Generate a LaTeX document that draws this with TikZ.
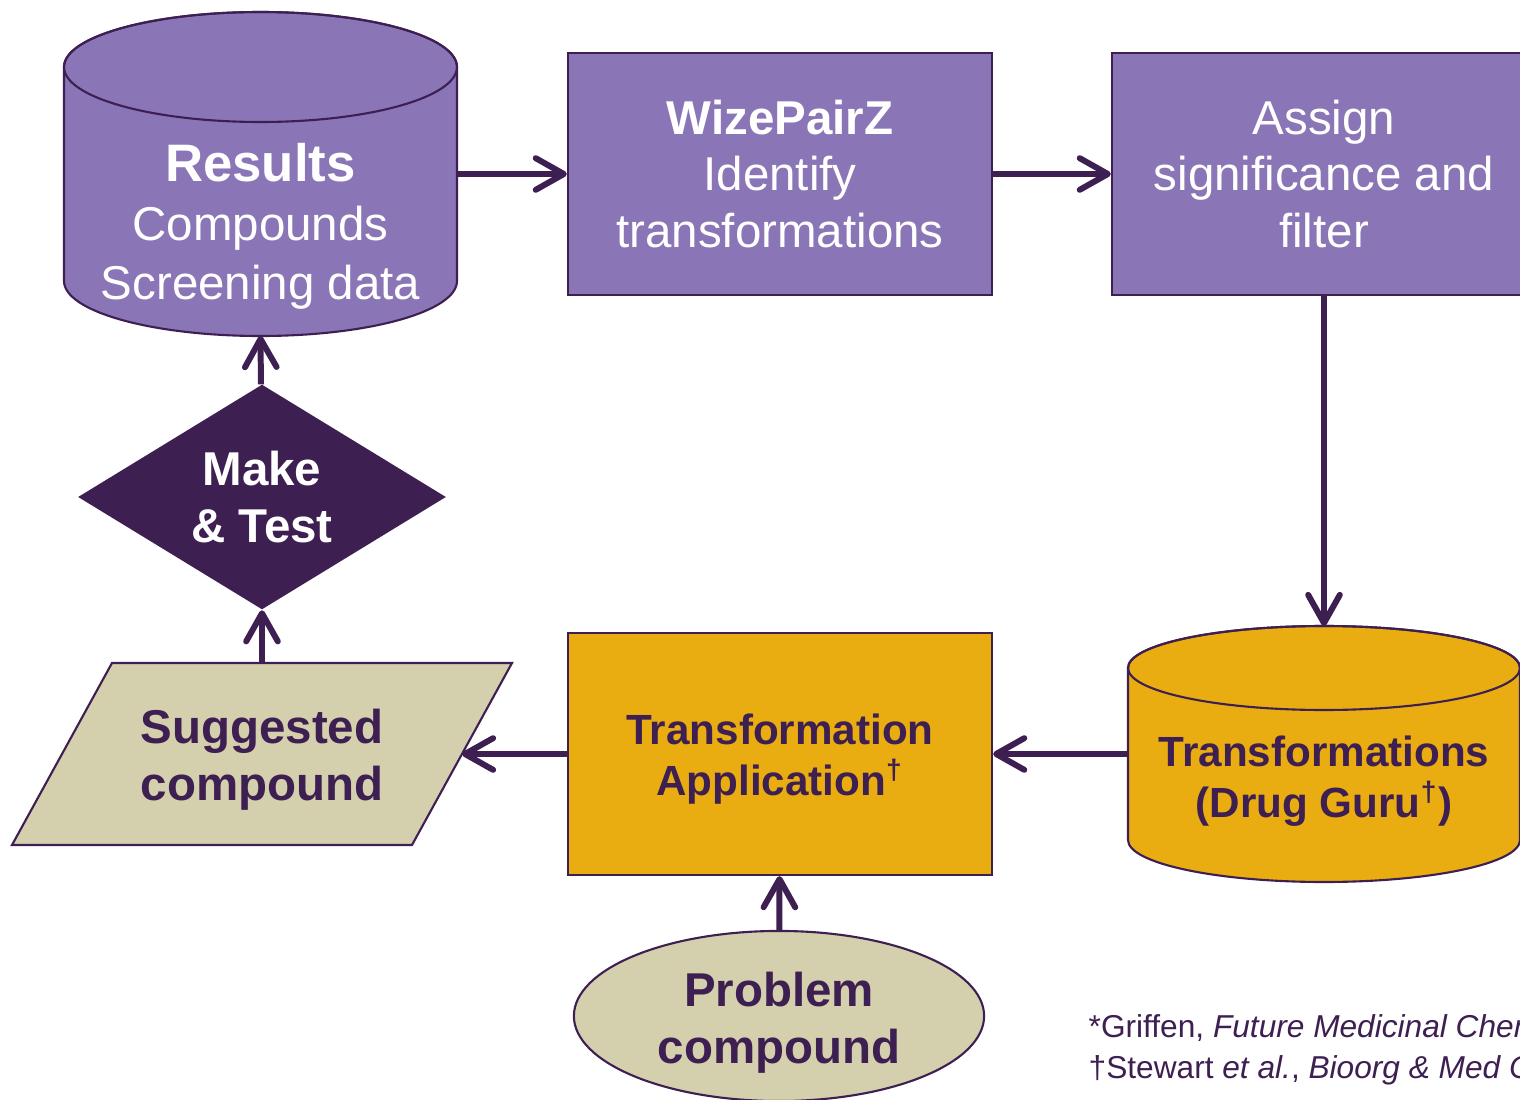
\documentclass[tikz,border=0pt]{standalone}
\usepackage{fontspec}
\setmainfont{Liberation Sans}
\usetikzlibrary{shapes.geometric, arrows.meta, positioning, calc}
\definecolor{lightpurple}{RGB}{138,118,183}
\definecolor{darkpurple}{RGB}{62,31,82}
\definecolor{goldyellow}{RGB}{233,173,17}
\definecolor{sandbeige}{RGB}{212,207,173}

\begin{document}
\begin{tikzpicture}[x=0.01cm, y=-0.01cm,
    box/.style={rectangle, draw=darkpurple, line width=0.6pt, minimum width=4.24cm, minimum height=2.42cm},
    whitetext/.style={align=center, text=white, font=\fontsize{13.5}{16.2}\selectfont},
    darktext/.style={align=center, text=darkpurple, font=\fontsize{13.5}{16.2}\selectfont\bfseries},
    goldtext/.style={align=center, text=darkpurple, font=\fontsize{12}{14.4}\selectfont\bfseries},
    outline/.style={draw=darkpurple, line width=0.6pt},
    flow/.style={draw=darkpurple, line width=1.7pt, -{Straight Barb[length=8pt,width=9pt,round]}}
]
\useasboundingbox (0,0) rectangle (1520,1100);

% results database
\filldraw[outline, fill=lightpurple] (64,67) -- (64,281) arc[start angle=180, end angle=0, x radius=196.5, y radius=55]
    -- (457,67) arc[start angle=0, end angle=-180, x radius=196.5, y radius=55] -- cycle;
\draw[outline] (260.5,67) ellipse[x radius=196.5, y radius=55];
\node[minimum width=3.93cm, minimum height=2.14cm] (res) at (260.5,174) {};
\coordinate (res-s) at (260.5,336);
\node[whitetext, font=\fontsize{13.5}{16.8}\selectfont] (restxt) at (260.5,226)
    {{\fontsize{15}{16.8}\selectfont\bfseries Results}\\Compounds\\Screening data};

\node[box, fill=lightpurple, whitetext] (wpz) at (780,174) {\textbf{WizePairZ}\\Identify\\transformations};
\node[box, fill=lightpurple, whitetext] (asg) at (1324,174) {Assign\\significance and\\filter};

% transformations database
\filldraw[outline, fill=goldyellow] (1128,668) -- (1128,840) arc[start angle=180, end angle=0, x radius=196, y radius=42]
    -- (1520,668) arc[start angle=0, end angle=-180, x radius=196, y radius=42] -- cycle;
\draw[outline] (1324,668) ellipse[x radius=196, y radius=42];
\node[minimum width=3.92cm, minimum height=1.72cm] (tdb) at (1324,754) {};
\coordinate (tdb-n) at (1324,626);
\node[goldtext] (tdbtxt) at (1324,781) {Transformations\\(Drug Guru\textsuperscript{†})};

\node[box, fill=goldyellow] (ta) at (780,754) {};
\node[goldtext] (tatxt) at (780,759) {Transformation\\Application\textsuperscript{†}};

% suggested compound
\filldraw[outline, fill=sandbeige] (112,663) -- (512,663) -- (412,845) -- (12,845) -- cycle;
\node[darktext] (sug) at (262,760) {Suggested\\compound};
\coordinate (sug-n) at (262,663);
\coordinate (sug-e) at (462,754);

\node[diamond, fill=darkpurple, minimum width=3.68cm, minimum height=2.25cm, aspect=1.63, inner sep=0pt,
    darktext, text=white] (mt) at (262,497) {Make\\\& Test};

\node[ellipse, outline, fill=sandbeige, minimum width=4.1cm, minimum height=1.7cm] (prob) at (779,1016) {};
\node[darktext] (probtxt) at (779,1023) {Problem\\compound};

\draw[flow] (res) -- (wpz);
\draw[flow] (wpz) -- (asg);
\draw[flow] (asg) -- (tdb-n);
\draw[flow] (tdb) -- (ta);
\draw[flow] (ta) -- (sug-e);
\draw[flow] (sug-n) -- (mt);
\draw[flow] (mt) -- (res-s);
\draw[flow] (prob) -- (ta);

\node[anchor=north west, align=left, inner sep=0pt, text=darkpurple, font=\fontsize{9}{11.7}\selectfont] (refs) at (1088,1014)
    {*Griffen, \textit{Future Medicinal Chemistry}\\†Stewart \textit{et al.}, \textit{Bioorg \& Med Chem Lett}};
\end{tikzpicture}
\end{document}
